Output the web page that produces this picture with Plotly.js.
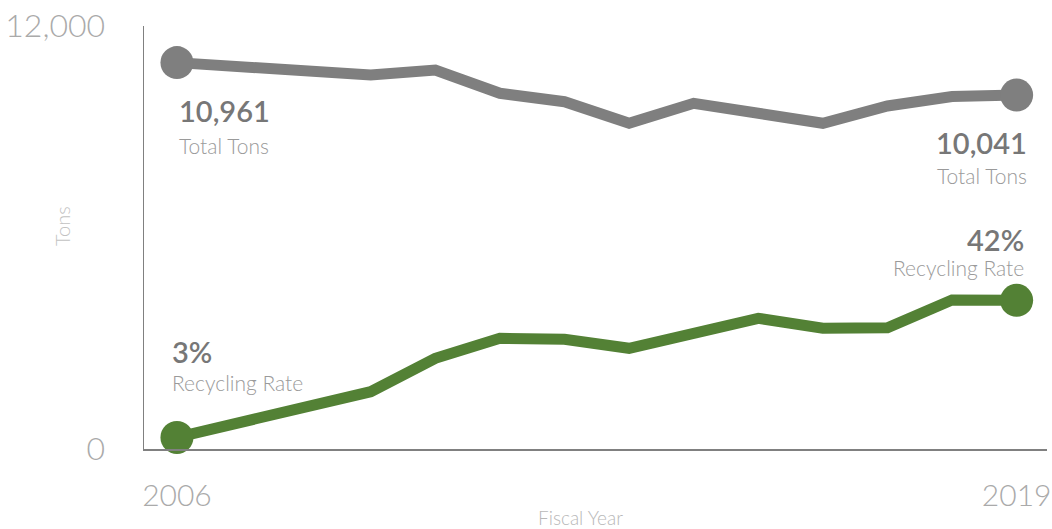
<!DOCTYPE html>
<html>
<head>
<meta charset="utf-8">
<script src="https://cdn.plot.ly/plotly-3.0.1.min.js"></script>
<style>html,body{margin:0;padding:0;background:#fff;}#chart{width:1052px;height:529px;}</style>
</head>
<body>
<div id="chart"></div>
<script>
// Data
const years = [2006, 2007, 2008, 2009, 2010, 2011, 2012, 2013, 2014, 2015, 2016, 2017, 2018, 2019];
const totalTons = [10961, 10865, 10780, 10610, 10752, 10091, 9853, 9240, 9807, 9532, 9240, 9730, 10000, 10041];
const recycledTons = [329, 766, 1200, 1626, 2573, 3140, 3112, 2857, 3282, 3708, 3424, 3441, 4227, 4217];
const startRate = '3%';
const endRate = '42%';
const yTicks = [0, 12000];
const yTickText = ['0', '12,000'];
const xTicks = [2006, 2019];
const xTickText = ['2006', '2019'];

const GRAY = '#7f7f7f';
const GREEN = '#538135';
const FONT = 'Lato, "Open Sans", sans-serif';

function endSizes(n, s) { return years.map((_, i) => (i === 0 || i === n - 1) ? s : 0); }

const traces = [
  {
    x: years, y: totalTons, type: 'scatter', mode: 'lines+markers', name: 'Total Tons',
    line: {color: GRAY, width: 11}, marker: {color: GRAY, opacity: 1, size: endSizes(years.length, 33), line: {width: 0}},
    cliponaxis: false, hoverinfo: 'x+y'
  },
  {
    x: years, y: recycledTons, type: 'scatter', mode: 'lines+markers', name: 'Recycled',
    line: {color: GREEN, width: 11}, marker: {color: GREEN, opacity: 1, size: endSizes(years.length, 33), line: {width: 0}},
    cliponaxis: false, hoverinfo: 'x+y'
  }
];

const first = years[0], last = years[years.length - 1];
const fmt = v => v.toLocaleString('en-US');
const numFont = {family: FONT, size: 29, color: '#777777', weight: 600};
const lblFont = {family: FONT, size: 21, color: '#9a9a9a', weight: 300};

const annotations = [
  {x: first, y: 9589, xref: 'x', yref: 'y', text: fmt(totalTons[0]), xanchor: 'left', xshift: 1, font: numFont},
  {x: first, y: 8624, xref: 'x', yref: 'y', text: 'Total Tons', xanchor: 'left', xshift: 1, font: lblFont},
  {x: last, y: 8681, xref: 'x', yref: 'y', text: fmt(totalTons[totalTons.length - 1]), xanchor: 'right', xshift: 11, font: numFont},
  {x: last, y: 7773, xref: 'x', yref: 'y', text: 'Total Tons', xanchor: 'right', xshift: 11, font: lblFont},
  {x: last, y: 5957, xref: 'x', yref: 'y', text: endRate, xanchor: 'right', xshift: 8, font: numFont},
  {x: last, y: 5135, xref: 'x', yref: 'y', text: 'Recycling Rate', xanchor: 'right', xshift: 8, font: lblFont},
  {x: first, y: 2752, xref: 'x', yref: 'y', text: startRate, xanchor: 'left', xshift: -6, font: numFont},
  {x: first, y: 1873, xref: 'x', yref: 'y', text: 'Recycling Rate', xanchor: 'left', xshift: -6, font: lblFont},
  // axis titles (pixel positions converted below)
  {x: 62, y: 226, xref: 'paper', yref: 'paper', text: 'Tons', textangle: -90, font: {family: FONT, size: 20, color: '#c2c2c2', weight: 300}},
  {x: 580, y: 517, xref: 'paper', yref: 'paper', text: 'Fiscal Year', font: {family: FONT, size: 19, color: '#b8b8b8', weight: 300}}
];

const L = 144, R = 5, T = 26, B = 80, W = 1052, H = 529;
const pw = W - L - R, ph = H - T - B;
annotations.forEach(a => {
  a.showarrow = false; a.borderpad = 0; a.yanchor = 'middle';
  if (a.xref === 'paper') {
    a.x = (a.x - L) / pw;
    a.y = (H - B - a.y) / ph;
    a.xanchor = 'center';
  }
});

const layout = {
  width: W, height: H,
  margin: {l: L, r: R, t: T, b: B, pad: 0},
  paper_bgcolor: '#ffffff', plot_bgcolor: '#ffffff',
  showlegend: false,
  font: {family: FONT},
  xaxis: {
    range: [2005.49, 2019.47], tickvals: xTicks, ticktext: xTickText,
    showgrid: false, zeroline: false, showline: true, linecolor: '#808080', linewidth: 1.5,
    ticks: 'outside', ticklen: 19, tickcolor: 'rgba(0,0,0,0)', ticklabeloverflow: 'allow',
    tickfont: {family: FONT, size: 30, color: '#aaaaaa', weight: 300}
  },
  yaxis: {
    range: [0, 12000], tickvals: yTicks, ticktext: yTickText,
    showgrid: false, zeroline: false, showline: true, linecolor: '#808080', linewidth: 1.5,
    ticks: 'outside', ticklen: 31, tickcolor: 'rgba(0,0,0,0)', ticklabeloverflow: 'allow',
    tickfont: {family: FONT, size: 32, color: '#aaaaaa', weight: 300}
  },
  annotations: annotations
};

Plotly.newPlot('chart', traces, layout, {displayModeBar: false, staticPlot: true});
</script>
</body>
</html>
